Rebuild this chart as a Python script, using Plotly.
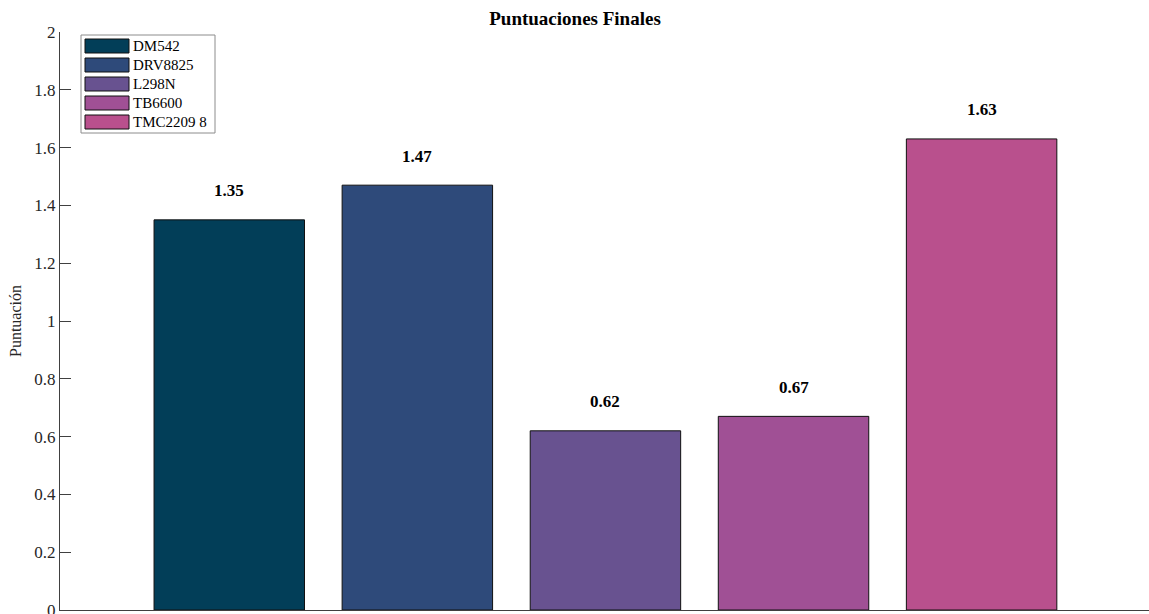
import plotly.graph_objects as go

categories = ["DM542", "DRV8825", "L298N", "TB6600", "TMC2209 8"]
scores = [1.35, 1.47, 0.62, 0.67, 1.63]
colors = ["#023e58", "#2e4a7a", "#685290", "#a05095", "#b9508d"]
y_ticks = [0, 0.2, 0.4, 0.6, 0.8, 1, 1.2, 1.4, 1.6, 1.8, 2]
y_tick_labels = ["0", "0.2", "0.4", "0.6", "0.8", "1", "1.2", "1.4", "1.6", "1.8", "2"]

FONT = "Liberation Serif, Times New Roman, serif"
W, H = 1149, 614
ML, MR, MT, MB = 60, 0, 32, 4
PW, PH = W - ML - MR, H - MT - MB


def px(x):
    return (x - ML) / PW


def py(y):
    return (H - MB - y) / PH


fig = go.Figure()
fig.add_trace(go.Bar(
    x=categories, y=scores, width=0.8,
    marker=dict(color=colors, line=dict(color="#111111", width=1)),
    showlegend=False, hoverinfo="x+y",
))

annotations = []
for c, v in zip(categories, scores):
    annotations.append(dict(x=c, y=v, xref="x", yref="y", text=f"<b>{v:.2f}</b>",
                            showarrow=False, yshift=29,
                            font=dict(family=FONT, size=17, color="black")))

# custom legend with wide swatches (MATLAB-like)
shapes = [dict(type="rect", xref="paper", yref="paper",
               x0=px(81), x1=px(215), y0=py(133), y1=py(35),
               line=dict(color="#8c8c8c", width=1), fillcolor="white", layer="above")]
for i, (c, col) in enumerate(zip(categories, colors)):
    yc = 46 + 19 * i
    shapes.append(dict(type="rect", xref="paper", yref="paper",
                       x0=px(85), x1=px(129), y0=py(yc + 7), y1=py(yc - 7),
                       line=dict(color="#111111", width=1), fillcolor=col, layer="above"))
    annotations.append(dict(x=px(131), y=py(yc), xref="paper", yref="paper",
                            text=c, showarrow=False, xanchor="left", yanchor="middle",
                            font=dict(family=FONT, size=15, color="black")))

fig.update_layout(
    width=W, height=H,
    margin=dict(l=ML, r=MR, t=MT, b=MB, autoexpand=False),
    paper_bgcolor="white", plot_bgcolor="white",
    title=dict(text="<b>Puntuaciones Finales</b>", x=px(605), xanchor="center",
               y=1 - 18 / H, yanchor="middle",
               font=dict(family=FONT, size=19, color="black")),
    font=dict(family=FONT, color="#262626"),
    xaxis=dict(range=[-0.9, 4.89], showticklabels=False, ticks="",
               showgrid=False, zeroline=False, showline=True, automargin=False,
               linecolor="#404040", linewidth=1),
    yaxis=dict(range=[0, 2], tickvals=y_ticks, ticktext=y_tick_labels,
               ticks="inside", ticklen=11, tickcolor="#404040",
               ticklabeloverflow="allow", automargin=False,
               tickfont=dict(family=FONT, size=17, color="#262626"),
               showgrid=False, zeroline=False, showline=True,
               linecolor="#404040", linewidth=1,
               title=dict(text="Puntuación", standoff=8,
                          font=dict(family=FONT, size=16, color="#262626"))),
    shapes=shapes, annotations=annotations,
    bargap=0.2,
)

fig.write_html("out.html")
